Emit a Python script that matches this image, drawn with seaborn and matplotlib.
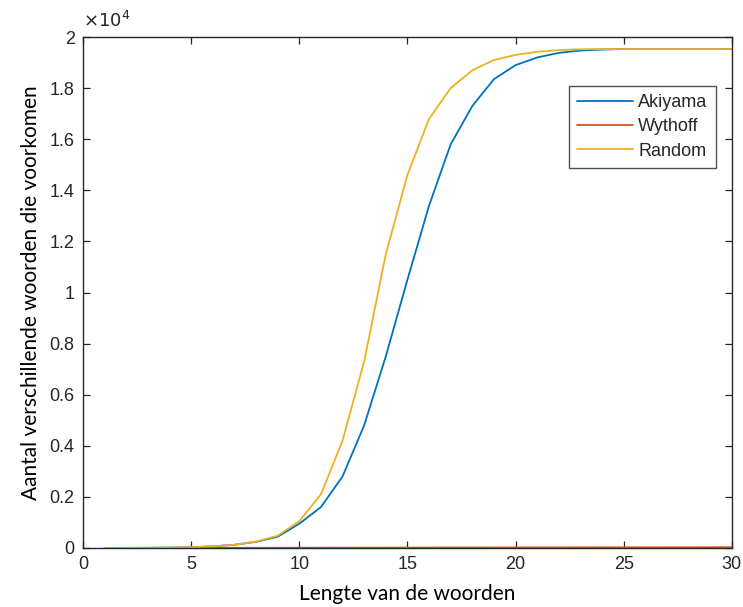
import matplotlib
matplotlib.use("Agg")
import matplotlib.pyplot as plt
import seaborn as sns
import pandas as pd
from matplotlib.ticker import FuncFormatter, MultipleLocator

# word length 1..30
lengths = list(range(1, 31))

akiyama = [2, 4, 8, 16, 32, 64, 126, 240, 440, 950,
           1600, 2800, 4800, 7500, 10500, 13400, 15800, 17300, 18350, 18900,
           19200, 19380, 19470, 19510, 19530, 19530, 19530, 19530, 19530, 19530]
wythoff = [2, 3, 4, 5, 6, 7, 8, 9, 10, 11,
           12, 13, 14, 15, 16, 17, 18, 19, 20, 21,
           22, 23, 24, 25, 26, 27, 28, 29, 30, 31]
random_words = [2, 4, 8, 16, 32, 64, 128, 250, 480, 1050,
                2100, 4200, 7300, 11500, 14600, 16800, 18000, 18700, 19100, 19300,
                19420, 19490, 19520, 19530, 19530, 19530, 19530, 19530, 19530, 19530]

series_names = ["Akiyama", "Wythoff", "Random"]
colors = ["#0072BD", "#D95319", "#EDB120"]

x_ticks = [0, 5, 10, 15, 20, 25, 30]

df = pd.DataFrame({
    "Lengte": lengths * 3,
    "Aantal": akiyama + wythoff + random_words,
    "Reeks": [n for n in series_names for _ in lengths],
})

sns.set_theme(style="ticks")
plt.rcParams["font.family"] = ["Liberation Sans", "DejaVu Sans"]

fig = plt.figure(figsize=(7.43, 6.07), dpi=100)
ax = fig.add_axes([0.1117, 0.0972, 0.8733, 0.8418])

sns.lineplot(data=df, x="Lengte", y="Aantal", hue="Reeks",
             hue_order=series_names, palette=colors, linewidth=1.3,
             ax=ax, legend=False)

ax.set_xlim(0, 30)
ax.set_ylim(0, 20000)
ax.set_xticks(x_ticks)
ax.yaxis.set_major_locator(MultipleLocator(2000))
ax.yaxis.set_major_formatter(FuncFormatter(lambda v, p: f"{v / 1e4:g}"))

dark = "#262626"
for s in ax.spines.values():
    s.set_visible(True)
    s.set_color(dark)
    s.set_linewidth(1.0)
ax.tick_params(direction="in", top=True, right=True, length=5, width=0.9,
               colors=dark, labelsize=13, pad=6)

ax.text(0.0, 1.012, r"$\times10^{4}$", transform=ax.transAxes,
        fontsize=13, color=dark, ha="left", va="bottom")

ax.set_xlabel("Lengte van de woorden", family=["Lato", "DejaVu Sans"],
              fontsize=15, color="black", labelpad=8)
ax.set_ylabel("Aantal verschillende woorden die voorkomen",
              family=["Lato", "DejaVu Sans"], fontsize=15, color="black",
              labelpad=6)

handles = [plt.Line2D([], [], color=c, linewidth=1.3) for c in colors]
leg = ax.legend(handles, series_names, loc="upper right",
                bbox_to_anchor=(0.975, 0.904), fontsize=13, frameon=True,
                fancybox=False, handlelength=3.1, handletextpad=0.3,
                labelspacing=0.4, borderpad=0.45, borderaxespad=0)
leg.get_frame().set_edgecolor(dark)
leg.get_frame().set_linewidth(1.0)

fig.savefig("out.png", dpi=100)
